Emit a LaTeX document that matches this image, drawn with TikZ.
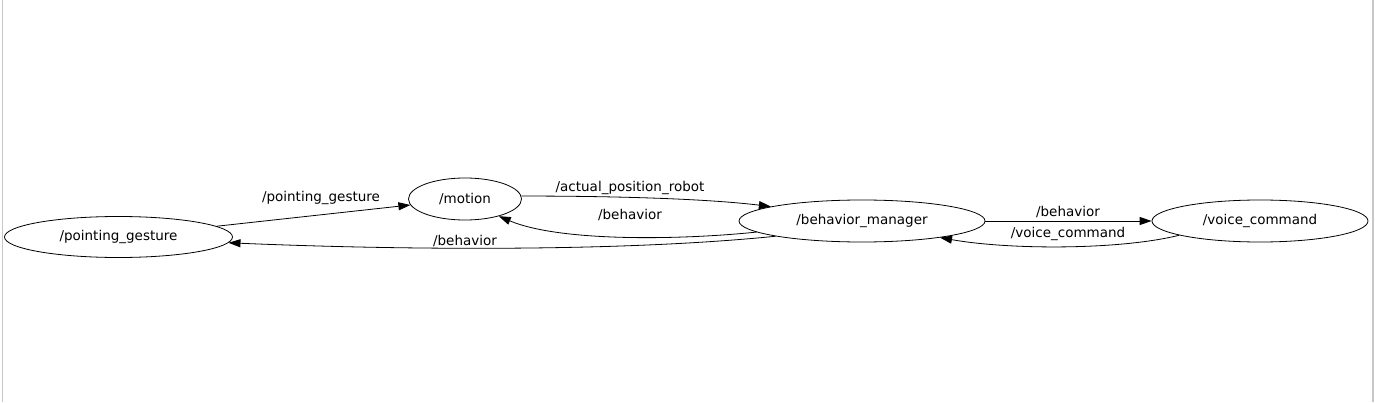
\documentclass[tikz,border=0pt]{standalone}
\usepackage{fontspec}
\setmainfont{DejaVu Sans}
\usetikzlibrary{shapes.geometric,arrows.meta}
\begin{document}
\begin{tikzpicture}[x=1pt,y=1pt,
  topic/.style={ellipse,draw,line width=0.8pt,inner sep=0pt,font=\fontsize{13.5}{15}\selectfont},
  elabel/.style={font=\fontsize{13.5}{15}\selectfont,inner sep=0pt},
  edge/.style={line width=0.8pt,-{Triangle[length=12pt,width=8pt]}},
  frameline/.style={draw=black!22,line width=1.5pt}]
\useasboundingbox (0,0) rectangle (1375,402);
\draw[frameline] (2.5,0) -- (2.5,402);
\draw[frameline] (1373,0) -- (1373,402);
% nodes
\node[topic,minimum width=228pt,minimum height=41pt] (pg) at (118.5,165) {/pointing\_gesture};
\node[topic,minimum width=113pt,minimum height=42pt] (mo) at (465,203) {/motion};
\node[topic,minimum width=246pt,minimum height=42pt] (bm) at (862,181) {/behavior\_manager};
\node[topic,minimum width=216pt,minimum height=42pt] (vc) at (1260,181) {/voice\_command};
% edges
\draw[edge] (pg) -- (mo);
\draw[edge] (mo.3) .. controls (600,206) and (700,204) .. (bm.171);
\draw[edge] (bm.186) .. controls (680,162) and (560,160) .. (mo.333);
\draw[edge] (bm.190) .. controls (620,150) and (400,152) .. (pg.357);
\draw[edge] (bm) -- (vc);
\draw[edge] (vc.190) .. controls (1120,152) and (1010,152) .. (bm.348);
% labels
\node[elabel] (l1) at (321,204) {/pointing\_gesture};
\node[elabel] (l2) at (630,214) {/actual\_position\_robot};
\node[elabel] (l3) at (630,187) {/behavior};
\node[elabel] (l4) at (465,161) {/behavior};
\node[elabel] (l5) at (1068,190) {/behavior};
\node[elabel] (l6) at (1068,168) {/voice\_command};
\end{tikzpicture}
\end{document}
